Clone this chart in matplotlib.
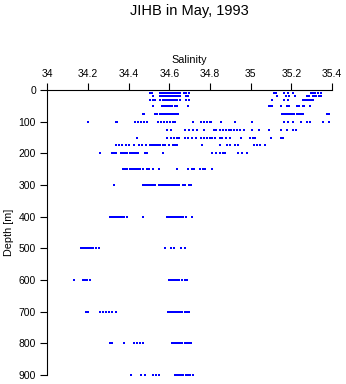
import numpy as np
import matplotlib
matplotlib.use("Agg")
import matplotlib.pyplot as plt

plt.rcParams["font.family"] = ["Liberation Sans", "DejaVu Sans"]

# salinity readings for each standard depth (m)
sal_0 = [34.506, 34.52, 34.545, 34.555, 34.565, 34.575, 34.585, 34.595, 34.605, 34.615,
         34.625, 34.635, 34.645, 34.655, 34.678, 34.686, 35.125, 35.135, 35.164, 35.175,
         35.19, 35.213, 35.297, 35.305, 35.318, 35.341]
sal_10 = [34.506, 34.515, 34.555, 34.565, 34.575, 34.585, 34.595, 34.605, 34.615, 34.625,
          34.635, 34.645, 34.655, 34.673, 34.683, 34.695, 35.115, 35.125, 35.165, 35.185,
          35.21, 35.295, 35.305, 35.318, 35.33, 35.345]
sal_20 = [34.52, 34.555, 34.565, 34.575, 34.585, 34.595, 34.605, 34.615, 34.625, 34.635,
          34.645, 34.655, 34.68, 34.69, 35.13, 35.175, 35.19, 35.218, 35.275, 35.285,
          35.305, 35.313, 35.323, 35.333, 35.345]
sal_30 = [34.506, 34.52, 34.53, 34.555, 34.57, 34.58, 34.59, 34.6, 34.61, 34.62, 34.63,
          34.64, 34.655, 34.683, 34.695, 35.107, 35.165, 35.185, 35.255, 35.265, 35.275,
          35.285, 35.295, 35.305]
sal_50 = [34.52, 34.565, 34.575, 34.585, 34.595, 34.605, 34.615, 34.63, 34.64, 34.69,
          35.088, 35.1, 35.105, 35.15, 35.178, 35.19, 35.228, 35.235, 35.255, 35.262, 35.29]
sal_75 = [34.47, 34.478, 34.528, 34.54, 34.555, 34.565, 34.575, 34.585, 34.595, 34.605,
          34.615, 34.625, 34.635, 34.645, 35.155, 35.165, 35.175, 35.185, 35.195, 35.205,
          35.215, 35.225, 35.235, 35.245, 35.255, 35.375, 35.385]
sal_100 = [34.2, 34.337, 34.345, 34.432, 34.445, 34.46, 34.475, 34.49, 34.545, 34.56,
           34.575, 34.59, 34.605, 34.62, 34.63, 34.717, 34.757, 34.772, 34.785, 34.8,
           34.806, 34.855, 34.925, 35.007, 35.165, 35.185, 35.21, 35.245, 35.275, 35.29,
           35.355, 35.385]
sal_125 = [34.588, 34.61, 34.675, 34.695, 34.715, 34.738, 34.77, 34.818, 34.83, 34.85,
           34.865, 34.88, 34.895, 34.905, 34.918, 34.933, 34.945, 34.968, 35.007, 35.04,
           35.088, 35.15, 35.178, 35.208, 35.22]
sal_150 = [34.44, 34.588, 34.61, 34.625, 34.64, 34.65, 34.675, 34.69, 34.71, 34.73,
           34.755, 34.772, 34.785, 34.8, 34.81, 34.825, 34.85, 34.86, 34.88, 34.9, 34.95,
           34.995, 35.01, 35.02, 35.1, 35.15, 35.16]
sal_175 = [34.34, 34.355, 34.37, 34.39, 34.4, 34.425, 34.45, 34.465, 34.485, 34.507,
           34.517, 34.527, 34.537, 34.547, 34.557, 34.567, 34.58, 34.6, 34.617, 34.63,
           34.64, 34.76, 34.85, 34.885, 34.9, 34.925, 34.94, 35.015, 35.03, 35.045, 35.07]
sal_200 = [34.262, 34.32, 34.33, 34.34, 34.365, 34.375, 34.385, 34.395, 34.405, 34.415,
           34.425, 34.435, 34.445, 34.48, 34.49, 34.57, 34.81, 34.83, 34.85, 34.865,
           34.875, 34.938, 34.958, 34.98]
sal_250 = [34.375, 34.385, 34.395, 34.405, 34.415, 34.425, 34.435, 34.445, 34.455, 34.47,
           34.49, 34.5, 34.52, 34.55, 34.64, 34.69, 34.71, 34.72, 34.75, 34.765, 34.775,
           34.81]
sal_300 = [34.33, 34.47, 34.48, 34.49, 34.5, 34.51, 34.52, 34.53, 34.55, 34.56, 34.57,
           34.58, 34.59, 34.6, 34.61, 34.62, 34.63, 34.64, 34.65, 34.67, 34.675, 34.695,
           34.705]
sal_400 = [34.307, 34.317, 34.327, 34.337, 34.347, 34.357, 34.367, 34.377, 34.393, 34.47,
           34.59, 34.6, 34.61, 34.62, 34.63, 34.64, 34.65, 34.66, 34.67, 34.68, 34.712]
sal_500 = [34.165, 34.175, 34.185, 34.195, 34.205, 34.215, 34.225, 34.24, 34.255, 34.58,
           34.61, 34.625, 34.66, 34.675]
sal_600 = [34.13, 34.175, 34.185, 34.195, 34.21, 34.597, 34.607, 34.617, 34.627, 34.637,
           34.647, 34.665, 34.675, 34.685]
sal_700 = [34.19, 34.2, 34.26, 34.275, 34.29, 34.305, 34.32, 34.34, 34.595, 34.605,
           34.615, 34.625, 34.635, 34.645, 34.655, 34.665, 34.675, 34.685, 34.695]
sal_800 = [34.31, 34.32, 34.38, 34.425, 34.44, 34.455, 34.47, 34.615, 34.625, 34.635,
           34.645, 34.655, 34.665, 34.675, 34.685, 34.695, 34.705]
sal_900 = [34.41, 34.46, 34.48, 34.52, 34.535, 34.55, 34.63, 34.64, 34.65, 34.66, 34.67,
           34.68, 34.69, 34.7, 34.715]

depths = [0, 10, 20, 30, 50, 75, 100, 125, 150, 175, 200, 250, 300, 400, 500, 600, 700, 800, 900]
salinity = [sal_0, sal_10, sal_20, sal_30, sal_50, sal_75, sal_100, sal_125, sal_150, sal_175,
            sal_200, sal_250, sal_300, sal_400, sal_500, sal_600, sal_700, sal_800, sal_900]

x_ticks = [34, 34.2, 34.4, 34.6, 34.8, 35, 35.2, 35.4]
x_tick_labels = ["34", "34.2", "34.4", "34.6", "34.8", "35", "35.2", "35.4"]
y_ticks = [0, 100, 200, 300, 400, 500, 600, 700, 800, 900]

fig = plt.figure(figsize=(3.46, 3.84), dpi=100)
ax = fig.add_axes([0.136, 0.0234, 0.824, 0.7422])

for d, s in zip(depths, salinity):
    ax.plot(s, [d] * len(s), linestyle="none", marker="s", markersize=2.1,
            color="#0000ff", markeredgewidth=0)

ax.set_xlim(34, 35.4)
ax.set_ylim(900, 0)
ax.xaxis.tick_top()
ax.xaxis.set_label_position("top")
ax.set_xticks(x_ticks)
ax.set_xticklabels(x_tick_labels)
ax.set_yticks(y_ticks)
ax.tick_params(axis="both", labelsize=7.5, length=5, width=0.8, direction="out", pad=3)
ax.set_xlabel("Salinity", fontsize=7.8, labelpad=4)
ax.set_ylabel("Depth [m]", fontsize=7.8, labelpad=3)
for side in ["left", "top"]:
    ax.spines[side].set_linewidth(0.8)
ax.spines["right"].set_visible(False)
ax.spines["bottom"].set_visible(False)

fig.text(0.548, 0.972, "JIHB in May, 1993", ha="center", va="center", fontsize=10.5)

fig.savefig("out.png", dpi=100)
